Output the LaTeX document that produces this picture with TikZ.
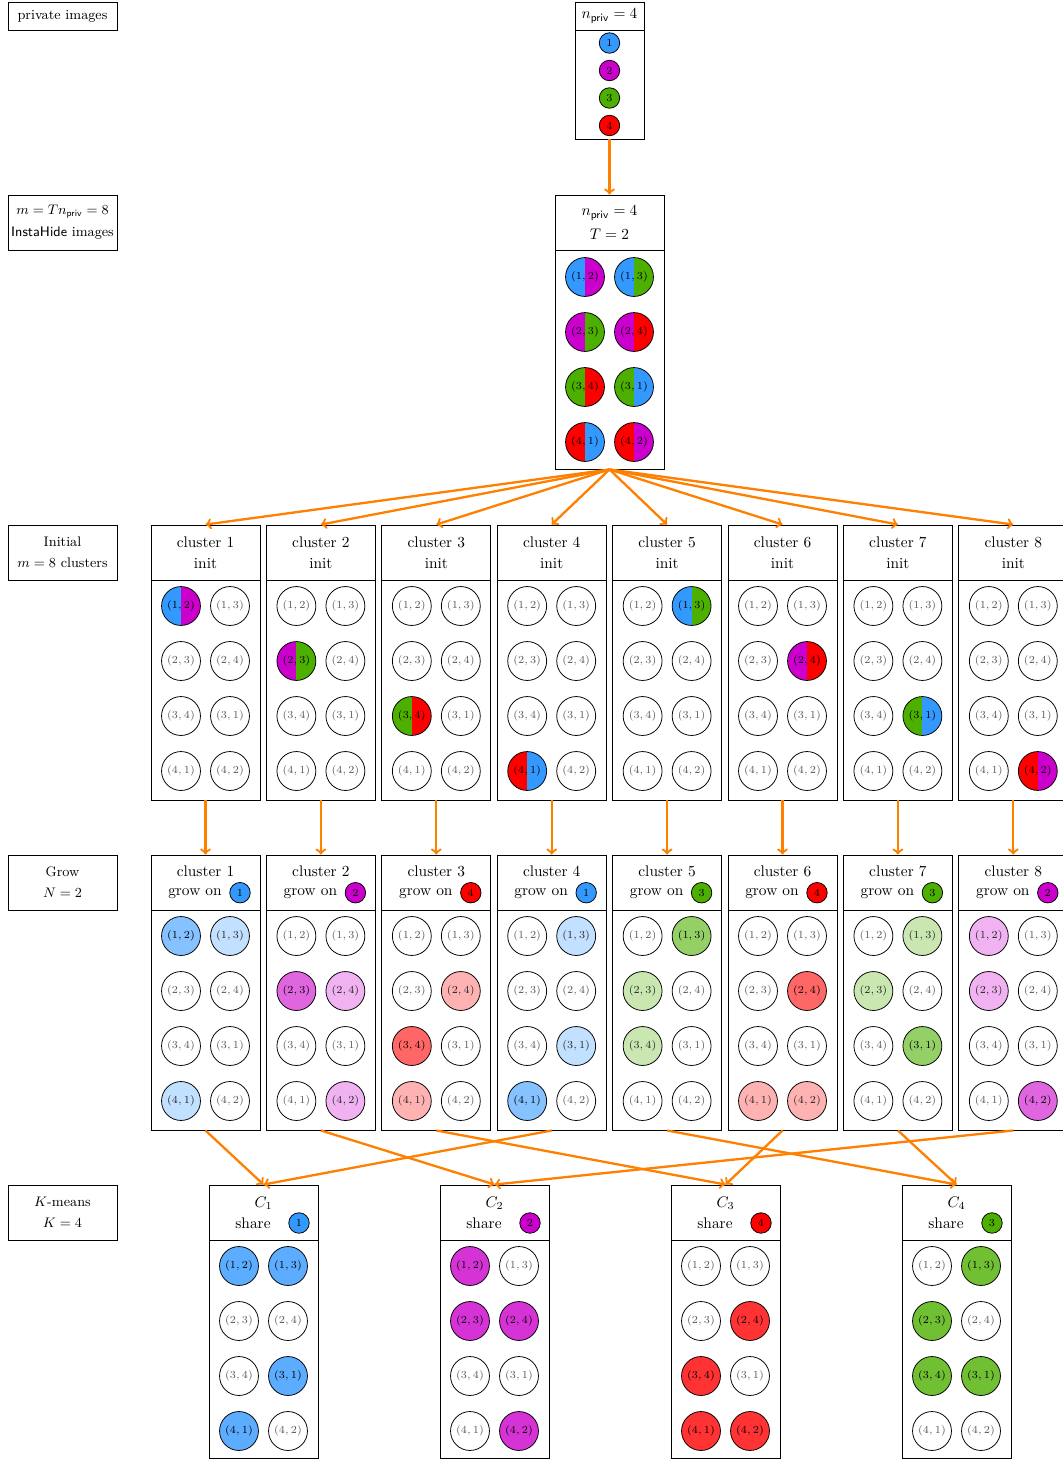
\documentclass[tikz,border=0pt]{standalone}
\usetikzlibrary{calc}
\definecolor{c1}{RGB}{51,153,255}
\definecolor{c2}{RGB}{204,0,204}
\definecolor{c3}{RGB}{77,176,0}
\definecolor{c4}{RGB}{255,0,0}
\definecolor{arrc}{RGB}{255,128,0}
\newcommand\pA[1]{\ifcase#1 1\or 1\or 2\or 2\or 3\or 3\or 4\or 4\fi}
\newcommand\pB[1]{\ifcase#1 2\or 3\or 3\or 4\or 4\or 1\or 1\or 2\fi}
\def\grp{c1}
\tikzset{
  lbl/.style={draw, line width=0.6pt, minimum width=70.85pt, minimum height=35.75pt, align=center, inner sep=0pt, font=\small},
  hdr/.style={draw, line width=0.6pt, minimum width=70.85pt, minimum height=35.75pt, align=center, inner sep=0pt},
  bdy/.style={draw, line width=0.6pt, minimum width=70.85pt, minimum height=143pt, inner sep=0pt},
  pc/.style={circle, draw, line width=0.5pt, minimum size=25.3pt, inner sep=0pt, font=\scriptsize},
  sc/.style={circle, draw, line width=0.5pt, minimum size=13.3pt, inner sep=0pt, font=\scriptsize, fill=#1},
  E/.style={fill=white, text=black!65},
  D/.style={fill=\grp!60, text=black},
  L/.style={fill=\grp!30, text=black!85},
  F/.style={fill=\grp!80, text=black},
  H/.style 2 args={text=black, path picture={
     \fill[#1] (path picture bounding box.south west) rectangle (path picture bounding box.north);
     \fill[#2] (path picture bounding box.south) rectangle (path picture bounding box.north east);}},
  arr/.style={draw=arrc, line width=1.5pt, ->},
  txt/.style={anchor=base, inner sep=0pt},
}
\newcommand\grid[4]{%
  \foreach \f [count=\k from 0] in #4 {
    \pgfmathtruncatemacro\rr{int(\k/2)}
    \pgfmathtruncatemacro\cc{mod(\k,2)}
    \edef\ca{c\pA{\k}}\edef\cb{c\pB{\k}}
    \node[pc,\f={\ca}{\cb}] (#1-\k) at ({#2-24.5+49*\cc},{#3+55*\rr}) {$(\pA{\k},\pB{\k})$};
  }}
\begin{document}
\begin{tikzpicture}[x=0.65pt,y=-0.65pt]
\useasboundingbox (0,0) rectangle (1063,1460);
% left labels
\node[lbl, minimum height=18.2pt] (L0) at (62.5,16) {private images};
\node[lbl] (L1) at (62.5,222.5) {$m=Tn_{\mathsf{priv}}=8$\\[3.3pt]\textsf{InstaHide} images};
\node[lbl] (L2) at (62.5,552.5) {Initial\\[2.65pt]$m=8$ clusters};
\node[lbl] (L3) at (62.5,882.5) {Grow\\[2.65pt]$N=2$};
\node[lbl] (L4) at (62.5,1212.5) {$K$-means\\[2.65pt]$K=4$};
% private images
\node[hdr, minimum width=44.85pt, minimum height=18.2pt] (th) at (609.5,16) {$n_{\mathsf{priv}}=4$};
\node[bdy, minimum width=44.85pt, minimum height=70.85pt] (tb) at (609.5,84.5) {};
\foreach \c/\y in {1/43,2/70.5,3/98,4/125.5} \node[sc=c\c] (p\c) at (609.5,\y) {\c};
% InstaHide images
\node[hdr] (sh) at (609.5,222.5) {$n_{\mathsf{priv}}=4$\\[3pt]$T=2$};
\node[bdy, minimum height=142.35pt] (sb) at (609.5,359.5) {};
\def\slst{H,H,H,H,H,H,H,H}
\grid{s}{609.5}{277}{\slst}
\draw[arr] (tb.south) -- (sh.north);
% initial clusters
\foreach \i/\lst in {1/{H,E,E,E,E,E,E,E},2/{E,E,H,E,E,E,E,E},3/{E,E,E,E,H,E,E,E},4/{E,E,E,E,E,E,H,E},
                     5/{E,H,E,E,E,E,E,E},6/{E,E,E,H,E,E,E,E},7/{E,E,E,E,E,H,E,E},8/{E,E,E,E,E,E,E,H}} {
  \pgfmathsetmacro\cx{205.5+115.4*(\i-1)}
  \node[hdr] (ah\i) at (\cx,552.5) {cluster \i\\[1.65pt]init};
  \node[bdy] (ab\i) at (\cx,690) {};
  \grid{a\i}{\cx}{606}{\lst}
  \draw[arr] (sb.south) -- (ah\i.north);
}
% grow
\foreach \i/\g/\lst in {1/1/{D,L,E,E,E,E,L,E},2/2/{E,E,D,L,E,E,E,L},3/4/{E,E,E,L,D,E,L,E},4/1/{E,L,E,E,E,L,D,E},
                        5/3/{E,D,L,E,L,E,E,E},6/4/{E,E,E,D,E,E,L,L},7/3/{E,L,L,E,E,D,E,E},8/2/{L,E,L,E,E,E,E,D}} {
  \pgfmathsetmacro\cx{205.5+115.4*(\i-1)}
  \def\grp{c\g}
  \node[hdr] (bh\i) at (\cx,882.5) {};
  \node[txt] (bt\i) at (\cx,876) {cluster \i};
  \node[txt] (bu\i) at ({\cx-10.5},895.5) {grow on};
  \node[sc=c\g] (bg\i) at ({\cx+34.5},892.7) {\g};
  \node[bdy] (bb\i) at (\cx,1020) {};
  \grid{b\i}{\cx}{936}{\lst}
  \draw[arr] (ab\i.south) -- (bh\i.north);
}
% k-means
\foreach \k/\g/\lst in {1/1/{F,F,E,E,E,F,F,E},2/2/{F,E,F,F,E,E,E,F},3/4/{E,E,E,F,F,E,F,F},4/3/{E,F,F,E,F,F,E,E}} {
  \pgfmathsetmacro\cx{263.5+231*(\k-1)}
  \def\grp{c\g}
  \node[hdr] (ch\k) at (\cx,1212.5) {};
  \node[txt] (ct\k) at (\cx,1207) {$C_{\k}$};
  \node[txt] (cu\k) at ({\cx-10.5},1228) {share};
  \node[sc=c\g] (cg\k) at ({\cx+35.5},1223) {\g};
  \node[bdy, minimum height=141.7pt] (cb\k) at (\cx,1349) {};
  \grid{c\k}{\cx}{1266}{\lst}
}
\foreach \i/\k in {1/1,2/2,3/3,4/1,5/4,6/3,7/4,8/2}
  \draw[arr] (bb\i.south) -- (ch\k.north);
\end{tikzpicture}
\end{document}
